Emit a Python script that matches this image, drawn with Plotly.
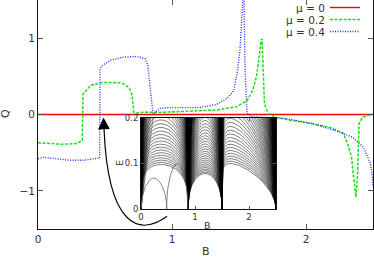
import numpy as np
import plotly.graph_objects as go

# ---------------- main panel data ----------------
B_mu0 = [0.0, 2.5]
Q_mu0 = [0.0, 0.0]

B_mu02 = [0.00, 0.09, 0.18, 0.29, 0.33, 0.336, 0.35, 0.39, 0.48, 0.56, 0.63, 0.68, 0.70, 0.715,
          0.73, 0.80, 0.95, 1.08, 1.22, 1.34, 1.48, 1.56, 1.60, 1.63, 1.65, 1.665, 1.672, 1.68,
          1.69, 1.72, 1.78, 1.90, 2.05, 2.18, 2.28, 2.31, 2.34, 2.355, 2.373, 2.385, 2.39, 2.396,
          2.42, 2.46, 2.50]
Q_mu02 = [-0.37, -0.38, -0.39, -0.38, -0.34, 0.27, 0.29, 0.38, 0.42, 0.42, 0.41, 0.35, 0.27, 0.03,
          0.02, 0.03, 0.03, 0.04, 0.05, 0.06, 0.10, 0.18, 0.31, 0.49, 0.75, 0.97, 0.99, 0.62,
          0.14, 0.01, -0.04, -0.08, -0.12, -0.17, -0.25, -0.38, -0.56, -0.82, -1.08, -0.77, -0.34, -0.12,
          -0.04, -0.01, 0.00]

B_mu04 = [0.00, 0.04, 0.14, 0.24, 0.34, 0.44, 0.46, 0.463, 0.48, 0.54, 0.63, 0.74, 0.80, 0.82,
          0.835, 0.85, 0.858, 0.87, 0.91, 0.99, 1.20, 1.33, 1.41, 1.46, 1.485, 1.507, 1.52, 1.53,
          1.536, 1.545, 1.56, 1.60, 1.70, 1.84, 2.05, 2.22, 2.35, 2.43, 2.48, 2.49, 2.50]
Q_mu04 = [-0.58, -0.56, -0.58, -0.60, -0.60, -0.58, -0.57, 0.60, 0.64, 0.71, 0.75, 0.76, 0.73, 0.64,
          0.40, 0.18, 0.01, 0.02, 0.08, 0.09, 0.09, 0.13, 0.21, 0.31, 0.53, 0.84, 1.27, 1.49,
          1.70, 0.60, 0.01, -0.03, -0.04, -0.05, -0.12, -0.21, -0.30, -0.43, -0.64, -0.75, -0.95]

legend_labels = ["μ = 0", "μ = 0.2", "μ = 0.4"]
x_ticks = [0, 1, 2]
y_ticks = [-1, 0, 1]

# ---------------- inset (energy spectrum) ----------------
inset_x_ticks = [0, 1, 2]
inset_y_ticks = [0, 0.1, 0.2]
inset_y_ticktext = ["0", "0.1", "0.2"]
# lobes of the spectrum between the cusps
lobe_start = [0.0, 0.87, 1.50]
lobe_end = [0.87, 1.50, 2.50]
lobe_lowest = [0.098, 0.078, 0.100]     # lowest level height in each lobe
lobe_rise = [0.22, 0.45, 0.10]          # steepness at the left cusp
lobe_fall = [0.30, 0.45, 0.55]          # steepness at the right cusp
level_step = [0.0045, 0.0030, 0.0050]   # spacing of the levels in each lobe
n_levels = 80
# fan of levels out of the origin
fan_slopes = [0.9, 1.1, 1.3, 1.5, 1.8, 2.1, 2.5, 3.0, 3.6, 4.3, 5.2, 6.3, 7.6]
# thin lower arcs
arc_start = [0.0, 0.47]
arc_end = [0.48, 0.87]
arc_height = [0.068, 0.100]

GREEN = "#19e019"
BLUE = "#2a2af0"
RED = "#ff0000"
FONT = "DejaVu Sans"
TXT = "#333333"

fig = go.Figure()

# main curves
fig.add_trace(go.Scatter(x=B_mu0, y=Q_mu0, mode="lines", line=dict(color=RED, width=1.4),
                         showlegend=False, hoverinfo="skip"))
fig.add_trace(go.Scatter(x=B_mu02, y=Q_mu02, mode="lines",
                         line=dict(color=GREEN, width=1.5, dash="3px,1.5px"),
                         showlegend=False, hoverinfo="skip"))
fig.add_trace(go.Scatter(x=B_mu04, y=Q_mu04, mode="lines",
                         line=dict(color=BLUE, width=1.4, dash="1px,1.5px"),
                         showlegend=False, hoverinfo="skip"))

# inset spectrum lines
for a, b, h0, p, q, st in zip(lobe_start, lobe_end, lobe_lowest, lobe_rise, lobe_fall, level_step):
    Bs = np.linspace(a, b, 240)
    t = (Bs - a) / (b - a)
    tm = p / (p + q)
    norm = tm ** p * (1 - tm) ** q
    shape = t ** p * (1 - t) ** q / norm
    xs, ys = [], []
    for k in range(n_levels):
        h = h0 + k * st * (1 + 0.03 * k)
        xs += list(Bs) + [None]
        ys += list(h * shape) + [None]
    fig.add_trace(go.Scatter(x=xs, y=ys, mode="lines", xaxis="x2", yaxis="y2",
                             line=dict(color="rgba(0,0,0,0.85)", width=0.6),
                             showlegend=False, hoverinfo="skip"))

xs, ys = [], []
for s in fan_slopes:
    xs += [0.0, 0.25 / s, None]
    ys += [0.0, 0.25, None]
fig.add_trace(go.Scatter(x=xs, y=ys, mode="lines", xaxis="x2", yaxis="y2",
                         line=dict(color="rgba(0,0,0,0.7)", width=0.6),
                         showlegend=False, hoverinfo="skip"))

xs, ys = [], []
for a, b, h in zip(arc_start, arc_end, arc_height):
    Bs = np.linspace(a, b, 80)
    t = (Bs - a) / (b - a)
    xs += list(Bs) + [None]
    ys += list(h * np.sin(np.pi * t) ** 0.5) + [None]
fig.add_trace(go.Scatter(x=xs, y=ys, mode="lines", xaxis="x2", yaxis="y2",
                         line=dict(color="#666666", width=0.8),
                         showlegend=False, hoverinfo="skip"))

# ---------------- layout ----------------
L, R, T, Bm = 38, 1, 0, 31
W, H = 374, 260
pw, ph = W - L - R, H - T - Bm


def px_x(px):
    return (px - L) / pw


def px_y(py):
    return (H - Bm - py) / ph


axis_common = dict(showline=True, linecolor="#111111", linewidth=1, mirror="ticks",
                   ticks="inside", tickcolor="#555555", showgrid=False, zeroline=False,
                   automargin=False,
                   tickfont=dict(family=FONT, size=10.5, color=TXT))
inset_common = {**axis_common, "tickfont": dict(family=FONT, size=8.5, color=TXT)}

fig.update_layout(
    width=W, height=H, margin=dict(l=L, r=R, t=T, b=Bm, autoexpand=False),
    paper_bgcolor="white", plot_bgcolor="white",
    xaxis=dict(range=[0, 2.5], tickvals=x_ticks, ticklen=5, domain=[0, 1], **axis_common),
    yaxis=dict(range=[-1.5, 1.5], tickvals=y_ticks, ticklen=5, domain=[0, 1], **axis_common),
    xaxis2=dict(range=[0, 2.5], tickvals=inset_x_ticks, ticklen=3, anchor="y2",
                domain=[px_x(141), px_x(276)], **inset_common),
    yaxis2=dict(range=[0, 0.2], tickvals=inset_y_ticks, ticktext=inset_y_ticktext, ticklen=3,
                anchor="x2", domain=[px_y(209), px_y(118)], **inset_common),
)

lab_common = dict(xref="paper", yref="paper", showarrow=False, xanchor="center", yanchor="middle")
annotations = [
    dict(text="B", x=px_x(206), y=px_y(252), font=dict(family=FONT, size=11, color=TXT), **lab_common),
    dict(text="Q", x=px_x(5), y=px_y(114), textangle=-90,
         font=dict(family=FONT, size=11, color=TXT), **lab_common),
    dict(text="E", x=px_x(119), y=px_y(163), textangle=-90,
         font=dict(family=FONT, size=9.5, color=TXT), **lab_common),
    dict(text="B", x=px_x(207), y=px_y(225), font=dict(family=FONT, size=9.5, color=TXT), **lab_common),
]

# legend drawn gnuplot-style (text right-aligned, sample on the right)
leg_rows = [7.5, 19.5, 31.5]
leg_styles = [(RED, "solid", 1.4), (GREEN, "3px,1.5px", 1.5), (BLUE, "1px,1.5px", 1.4)]
shapes = []
for lab, row, (c, d, w) in zip(legend_labels, leg_rows, leg_styles):
    annotations.append(dict(text=lab, x=px_x(327), y=px_y(row), xref="paper", yref="paper",
                            xanchor="right", yanchor="middle", showarrow=False,
                            font=dict(family=FONT, size=10.5, color=TXT)))
    shapes.append(dict(type="line", xref="paper", yref="paper", x0=px_x(330), x1=px_x(360),
                       y0=px_y(row), y1=px_y(row), line=dict(color=c, dash=d, width=w)))


# curved arrow from the inset to the jump of the mu=0.4 curve (main-axis coordinates)
def dB(px):
    return (px - 38) / 134.0


def dQ(py):
    return (114 - py) / 76.5


path = "M {},{} C {},{} {},{} {},{}".format(dB(167), dQ(216), dB(140), dQ(236),
                                            dB(108), dQ(228), dB(104), dQ(128))
shapes.append(dict(type="path", path=path, xref="x", yref="y",
                   line=dict(color="black", width=1.2)))
annotations.append(dict(text="", x=dB(103.5), y=dQ(117), xref="x", yref="y",
                        ax=dB(104), ay=dQ(130), axref="x", ayref="y", showarrow=True,
                        arrowhead=2, arrowsize=1.8, arrowwidth=1.3, arrowcolor="black",
                        standoff=0))

fig.update_layout(annotations=annotations, shapes=shapes)

fig.write_html("out.html", config={"displayModeBar": False},
               post_script="document.body.style.margin='0px';")
